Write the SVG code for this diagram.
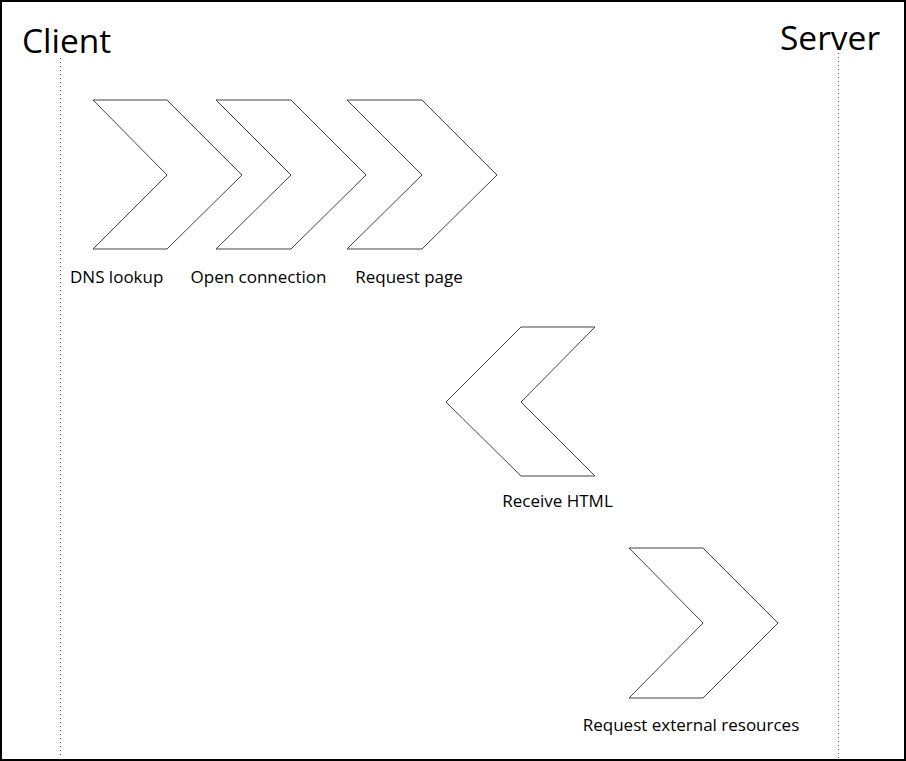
<svg xmlns="http://www.w3.org/2000/svg" width="906" height="761" viewBox="0 0 906 761">
<style>
.bg{fill:#fff;stroke:#000;stroke-width:2}
.life{stroke:#555;stroke-width:1;stroke-dasharray:1 3;fill:none}
.chev{fill:#fff;stroke:#444;stroke-width:1}
.head{font-family:"Open Sans","Noto Sans",sans-serif;font-size:33.5px;fill:#000}
.lbl{font-family:"Open Sans","Noto Sans",sans-serif;font-size:17px;fill:#000;text-anchor:middle}
</style>
<rect class="bg" x="1" y="1" width="904" height="759"/>
<g id="client"><text class="head" x="22" y="53">Client</text></g>
<g id="server"><text class="head" x="780" y="50">Server</text></g>
<g id="connectors">
<line class="life" x1="60.5" y1="58" x2="60.5" y2="758"/>
<line class="life" x1="838.5" y1="53" x2="838.5" y2="758"/>
</g>
<g id="dns">
<polygon class="chev" points="93,100 167,100 242,175 167,249 93,249 167,175"/>
<text class="lbl" x="116.7" y="283">DNS lookup</text>
</g>
<g id="open">
<polygon class="chev" points="216,100 291,100 366,175 291,249 216,249 291,175"/>
<text class="lbl" x="258.5" y="283">Open connection</text>
</g>
<g id="request">
<polygon class="chev" points="347,100 422,100 497,175 422,249 347,249 422,175"/>
<text class="lbl" x="409" y="283">Request page</text>
</g>
<g id="receive">
<polygon class="chev" points="521,327 595,327 521,402 595,476 521,476 446,402"/>
<text class="lbl" x="557.5" y="507">Receive HTML</text>
</g>
<g id="external">
<polygon class="chev" points="629,548 703,548 778,623 703,698 629,698 703,623"/>
<text class="lbl" x="691" y="731">Request external resources</text>
</g>
</svg>
